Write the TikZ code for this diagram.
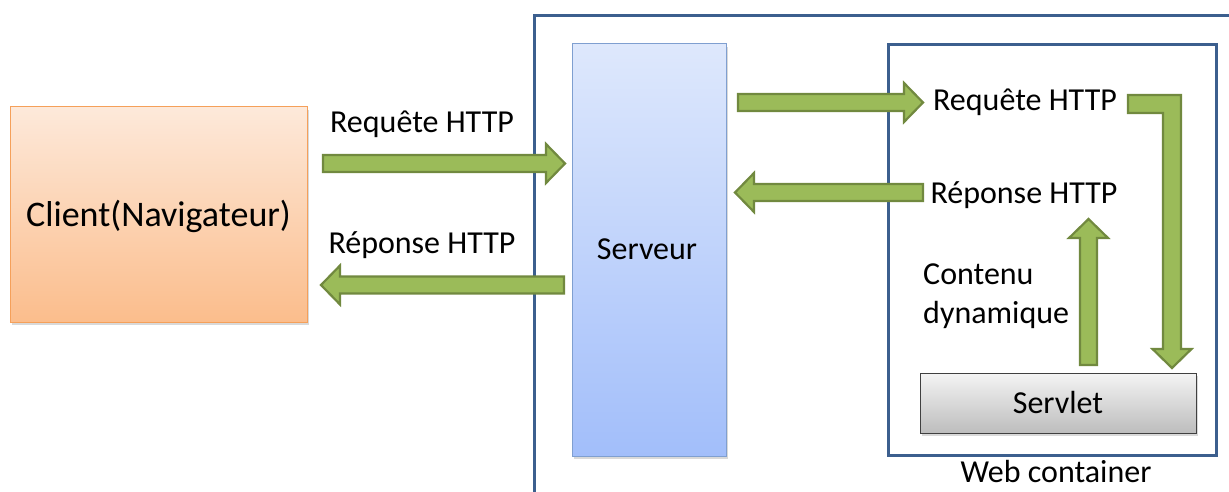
\documentclass[tikz,border=0pt]{standalone}
\usepackage{fontspec}
\setmainfont{Carlito}
\usetikzlibrary{calc,shadows}
\definecolor{arrowfill}{HTML}{9BBB59}
\definecolor{arrowline}{HTML}{71893F}
\definecolor{frameblue}{HTML}{3C5F8E}
\definecolor{clienttop}{HTML}{FDE9DA}
\definecolor{clientbot}{HTML}{FBBD8C}
\definecolor{clientline}{HTML}{F5A05A}
\definecolor{servtop}{HTML}{DEE8FC}
\definecolor{servbot}{HTML}{A2BEFA}
\definecolor{servline}{HTML}{7F9FD0}
\definecolor{letop}{HTML}{F4F4F4}
\definecolor{lebot}{HTML}{BDBDBD}
\tikzset{
  lbl/.style={font=\fontsize{32}{38}\selectfont, inner sep=0pt, anchor=base},
  arrowstyle/.style={fill=arrowfill, draw=arrowline, line width=2.2pt, line join=miter},
  boxshadow/.style={drop shadow={opacity=0.3, shadow xshift=2pt, shadow yshift=-3pt}},
  frame/.style={draw=frameblue, line width=3pt},
}
% block arrow from coordinate #1 to coordinate #2 (tip)
\newcommand\fatarrow[2]{%
  \coordinate (fa-h) at ($(#2)!19pt!(#1)$);
  \filldraw[arrowstyle]
    ($(#1)!8.5pt!90:(#2)$) -- ($(fa-h)!8.5pt!-90:(#1)$) -- ($(fa-h)!19.5pt!-90:(#1)$)
    -- (#2) -- ($(fa-h)!19.5pt!90:(#1)$) -- ($(fa-h)!8.5pt!90:(#1)$)
    -- ($(#1)!8.5pt!-90:(#2)$) -- cycle;
}
\begin{document}
\begin{tikzpicture}[x=1pt,y=-1pt]
  \useasboundingbox (0,0) rectangle (1229,492);
  % outer server frame, running off the page to the right and bottom
  \begin{scope}
    \clip (0,0) rectangle (1229,492);
    \draw[frame] (534,16) rectangle (1260,520);
  \end{scope}

  % boxes
  \path[boxshadow, top color=clienttop, bottom color=clientbot, draw=clientline, line width=1pt]
    (10,107) rectangle (307,322);
  \node (client) at (158.5,214.5) {};
  \path[boxshadow, top color=servtop, bottom color=servbot, draw=servline, line width=1pt]
    (572,44) rectangle (726,456);
  \node (serveur) at (649,250) {};
  \draw[frame] (888,45) rectangle (1216,455);
  \path[boxshadow, top color=letop, bottom color=lebot, draw=black!75, line width=1pt]
    (920,373) rectangle (1196,433);
  \node (servlet) at (1058,403) {};

  % labels
  \node[lbl, font=\fontsize{36}{42}\selectfont] at (158.5,226) {Client(Navigateur)};
  \node[lbl] at (647,259) {Serveur};
  \node[lbl] at (1058,413) {Servlet};
  \node[lbl] at (1056,482) {Web container};
  \node[lbl] (req1) at (422,133) {Requête HTTP};
  \node[lbl] (rep1) at (422,253) {Réponse HTTP};
  \node[lbl] (req2) at (1025,111) {Requête HTTP};
  \node[lbl] (rep2) at (1024,203) {Réponse HTTP};
  \node[lbl, anchor=base west] (cont) at (923,284) {Contenu};
  \node[lbl, anchor=base west] (dyn) at (923,323) {dynamique};

  % arrow end points
  \coordinate (a1s) at (323,163.5);  \coordinate (a1e) at (565,163.5);
  \coordinate (a2s) at (564,285);    \coordinate (a2e) at (321,285);
  \coordinate (a3s) at (738,102.5);  \coordinate (a3e) at (923,102.5);
  \coordinate (a4s) at (923,192.5);  \coordinate (a4e) at (735,192.5);
  \coordinate (a5s) at (1088.5,365); \coordinate (a5e) at (1088.5,219);

  \fatarrow{a1s}{a1e}
  \fatarrow{a2s}{a2e}
  \fatarrow{a3s}{a3e}
  \fatarrow{a4s}{a4e}
  \fatarrow{a5s}{a5e}

  % elbow arrow from the request down to the servlet
  \filldraw[arrowstyle]
    (1128,95) -- (1181,95) -- (1181,349) -- (1191.5,349) -- (1172,368)
    -- (1152.5,349) -- (1163,349) -- (1163,113) -- (1128,113) -- cycle;
\end{tikzpicture}
\end{document}
